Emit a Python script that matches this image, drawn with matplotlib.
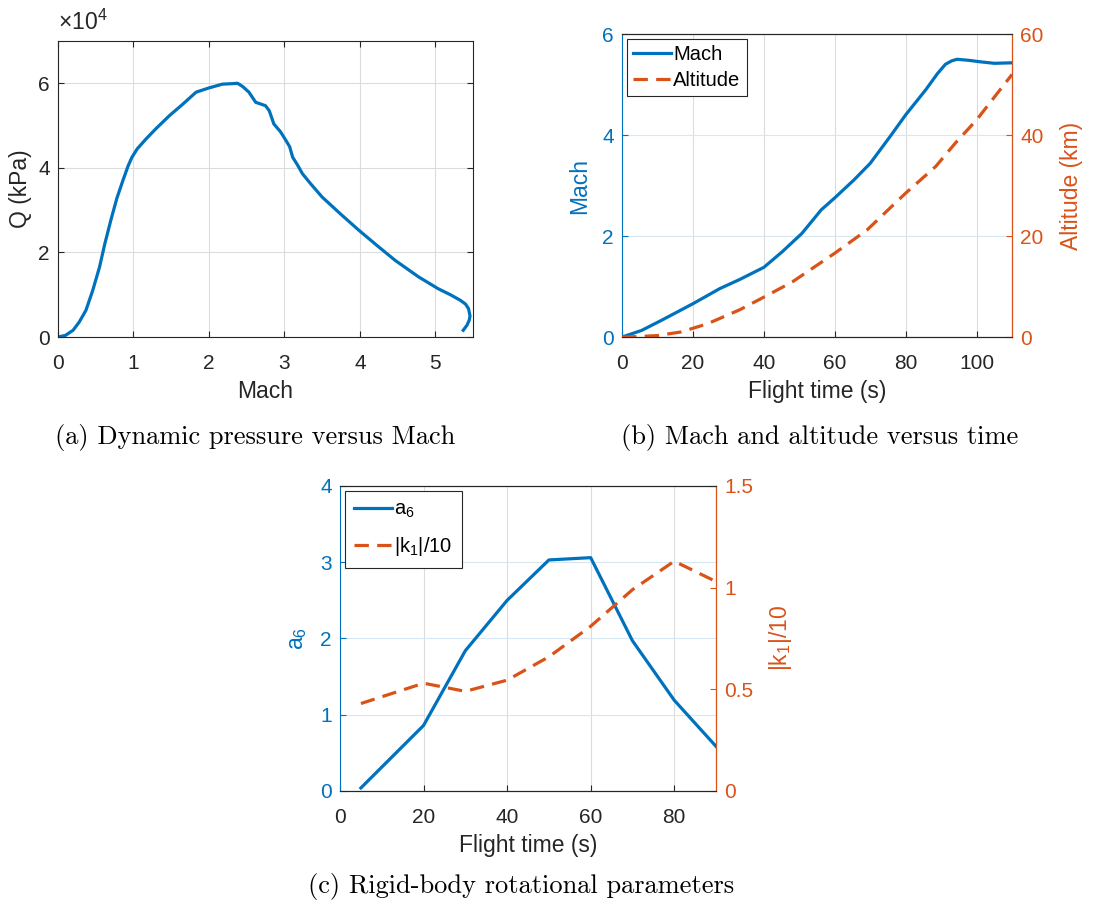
import numpy as np
import matplotlib.pyplot as plt

plt.rcParams['font.family'] = ['Liberation Sans', 'DejaVu Sans']
plt.rcParams['mathtext.fontset'] = 'custom'
plt.rcParams['mathtext.rm'] = 'Liberation Sans'
plt.rcParams['mathtext.it'] = 'Liberation Sans'
plt.rcParams['axes.unicode_minus'] = False

BLUE = '#0072BD'
ORANGE = '#D95319'
DARK = '#262626'

# (a) dynamic pressure versus Mach
mach_a = [0.0, 0.1, 0.2, 0.28, 0.37, 0.46, 0.55, 0.62, 0.70, 0.78, 0.86, 0.93, 0.98,
          1.05, 1.17, 1.30, 1.48, 1.65, 1.83, 2.0, 2.18, 2.30, 2.38, 2.45, 2.53,
          2.62, 2.75, 2.80, 2.86, 2.95, 3.02, 3.07, 3.11, 3.17, 3.24, 3.35, 3.50,
          3.75, 3.99, 4.23, 4.47, 4.78, 5.04, 5.20, 5.33, 5.40, 5.44, 5.46, 5.45,
          5.42, 5.37]
q_a = [0.0, 0.04, 0.16, 0.35, 0.63, 1.10, 1.65, 2.20, 2.76, 3.28, 3.70, 4.05, 4.25,
       4.45, 4.69, 4.93, 5.24, 5.50, 5.79, 5.89, 5.98, 5.99, 6.0, 5.92, 5.79,
       5.55, 5.47, 5.35, 5.04, 4.85, 4.65, 4.50, 4.25, 4.08, 3.86, 3.62, 3.31,
       2.90, 2.52, 2.16, 1.81, 1.42, 1.14, 1.00, 0.87, 0.78, 0.67, 0.50, 0.40,
       0.28, 0.16]  # x 1e4

# (b) Mach and altitude versus time
t_mach = [0, 5.5, 11.1, 20, 27.6, 33.2, 40, 45.2, 50.7, 56.2, 59.9, 65.4, 70, 75.6,
          80, 85.7, 89, 91.2, 93, 94.5, 97.7, 101, 105, 110]
mach_b = [0, 0.13, 0.33, 0.66, 0.96, 1.14, 1.38, 1.69, 2.05, 2.52, 2.75, 3.11, 3.44,
          3.97, 4.40, 4.90, 5.22, 5.40, 5.47, 5.50, 5.48, 5.45, 5.42, 5.43]
t_alt = [0, 5, 10.1, 16.6, 24, 33.2, 40, 48, 60, 69.1, 80, 88.5, 94, 100, 110]
alt_b = [0, 0.1, 0.3, 1.0, 2.6, 5.4, 7.9, 10.9, 16.6, 21.2, 28.5, 33.8, 38.4, 43, 52]

# (c) rigid-body rotational parameters
t_c = [5, 20, 30, 40, 50, 60, 70, 80, 90]
a6 = [0.04, 0.86, 1.84, 2.50, 3.03, 3.06, 1.97, 1.19, 0.585]
k1_10 = [0.43, 0.53, 0.49, 0.545, 0.66, 0.81, 0.99, 1.13, 1.03]

fig = plt.figure(figsize=(10.94, 9.05), dpi=100)

TICK = 15
LAB = 16.5
LEG = 14.5
LW = 2.3
DASH = (4.5, 2.6)


def style_axes(ax, grid_y_color='#dcdcdc'):
    ax.tick_params(direction='in', length=4, width=0.8, labelsize=TICK, colors=DARK)
    ax.tick_params(axis='x', pad=12)
    ax.tick_params(axis='y', pad=6)
    ax.grid(True, axis='x', color='#dcdcdc', lw=0.8)
    ax.grid(True, axis='y', color=grid_y_color, lw=0.8)
    ax.set_axisbelow(True)
    for s in ax.spines.values():
        s.set_color(DARK)
        s.set_linewidth(0.8)


def style_right(ax):
    ax.tick_params(direction='in', length=4, width=0.8, labelsize=TICK, colors=ORANGE,
                   pad=6)
    ax.spines['right'].set_color(ORANGE)
    ax.spines['left'].set_visible(False)
    ax.spines['top'].set_color(DARK)
    ax.spines['bottom'].set_color(DARK)


# ---- (a)
ax1 = fig.add_axes([0.053, 0.6276, 0.3794, 0.3271])
ax1.plot(mach_a, np.array(q_a) * 1e4, color=BLUE, lw=LW)
ax1.set_xlim(0, 5.5)
ax1.set_ylim(0, 7e4)
ax1.set_xticks([0, 1, 2, 3, 4, 5])
ax1.set_yticks([0, 2e4, 4e4, 6e4])
ax1.set_yticklabels(['0', '2', '4', '6'])
style_axes(ax1)
ax1.tick_params(top=True, right=True)
ax1.set_xlabel('Mach', fontsize=LAB, color=DARK, labelpad=5)
ax1.set_ylabel('Q (kPa)', fontsize=LAB, color=DARK, labelpad=4)
ax1.text(0.0, 1.02, r'$\times10^4$', transform=ax1.transAxes, fontsize=16.5,
         color=DARK, ha='left', va='bottom')

# ---- (b)
ax2 = fig.add_axes([0.5686, 0.6276, 0.3565, 0.3348])
ax2r = ax2.twinx()
l1, = ax2.plot(t_mach, mach_b, color=BLUE, lw=LW, label='Mach')
l2, = ax2r.plot(t_alt, alt_b, color=ORANGE, lw=LW, dashes=DASH, label='Altitude')
ax2.set_xlim(0, 110)
ax2.set_ylim(0, 6)
ax2r.set_ylim(0, 60)
ax2.set_xticks([0, 20, 40, 60, 80, 100])
ax2.set_yticks([0, 2, 4, 6])
ax2r.set_yticks([0, 20, 40, 60])
style_axes(ax2, grid_y_color='#d6e6f2')
ax2.tick_params(axis='y', colors=BLUE)
ax2.spines['left'].set_color(BLUE)
style_right(ax2r)
ax2.set_xlabel('Flight time (s)', fontsize=LAB, color=DARK, labelpad=5)
ax2.set_ylabel('Mach', fontsize=LAB, color=BLUE, labelpad=8)
ax2r.set_ylabel('Altitude (km)', fontsize=LAB, color=ORANGE, labelpad=12)
leg = ax2r.legend([l1, l2], ['Mach', 'Altitude'], loc='upper left', fontsize=LEG,
                  fancybox=False, framealpha=1, edgecolor=DARK, handlelength=1.9,
                  handletextpad=0.1, borderpad=0.3, labelspacing=0.35,
                  borderaxespad=0.25)
leg.get_frame().set_linewidth(0.8)

# ---- (c)
ax3 = fig.add_axes([0.3108, 0.1260, 0.3437, 0.3370])
ax3r = ax3.twinx()
l3, = ax3.plot(t_c, a6, color=BLUE, lw=LW)
l4, = ax3r.plot(t_c, k1_10, color=ORANGE, lw=LW, dashes=DASH)
ax3.set_xlim(0, 90)
ax3.set_ylim(0, 4)
ax3r.set_ylim(0, 1.5)
ax3.set_xticks([0, 20, 40, 60, 80])
ax3.set_yticks([0, 1, 2, 3, 4])
ax3r.set_yticks([0, 0.5, 1, 1.5])
ax3r.set_yticklabels(['0', '0.5', '1', '1.5'])
style_axes(ax3, grid_y_color='#d6e6f2')
ax3.tick_params(axis='y', colors=BLUE)
ax3.spines['left'].set_color(BLUE)
style_right(ax3r)
ax3.set_xlabel('Flight time (s)', fontsize=LAB, color=DARK, labelpad=5)
ax3.set_ylabel(r'a$_6$', fontsize=LAB, color=BLUE, labelpad=8)
ax3r.set_ylabel(r'|k$_1$|/10', fontsize=LAB, color=ORANGE, labelpad=10)
leg = ax3r.legend([l3, l4], [r'a$_6$', r'|k$_1$|/10'], loc='upper left',
                  fontsize=LEG, fancybox=False, framealpha=1, edgecolor=DARK,
                  handlelength=1.9, handletextpad=0.1, borderpad=0.45,
                  labelspacing=0.75, borderaxespad=0.25)
leg.get_frame().set_linewidth(0.8)

# captions
cap = dict(fontsize=19, family='cmr10', ha='center', va='center', color='black')
fig.text(255 / 1094, 1 - 437 / 905, '(a) Dynamic pressure versus Mach', **cap)
fig.text(820 / 1094, 1 - 437 / 905, '(b) Mach and altitude versus time', **cap)
fig.text(521 / 1094, 1 - 886 / 905, '(c) Rigid-body rotational parameters', **cap)

fig.savefig('out.png', dpi=100)
